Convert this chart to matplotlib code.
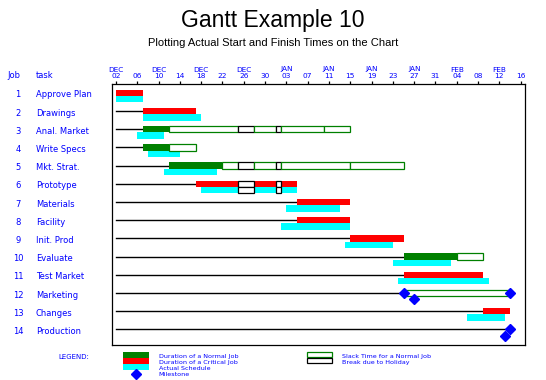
import matplotlib
matplotlib.use("Agg")
import matplotlib.pyplot as plt
import matplotlib.dates as mdates
import matplotlib.transforms as mtransforms
import pandas as pd

## job table
jobs = list(range(1, 15))
tasks = ['Approve Plan', 'Drawings', 'Anal. Market', 'Write Specs', 'Mkt. Strat.',
         'Prototype', 'Materials', 'Facility', 'Init. Prod', 'Evaluate',
         'Test Market', 'Marketing', 'Changes', 'Production']
critical = [1, 1, 0, 0, 0, 1, 1, 1, 1, 0, 1, 0, 1, 1]

## early start / finish (finish = day after the last working day)
e_start = ['1991-12-02', '1991-12-07', '1991-12-07', '1991-12-07', '1991-12-12',
           '1991-12-17', '1992-01-05', '1992-01-05', '1992-01-15', '1992-01-25',
           '1992-01-25', '1992-01-25', '1992-02-09', '1992-02-14']
e_finish = ['1991-12-07', '1991-12-17', '1991-12-12', '1991-12-12', '1991-12-22',
            '1992-01-05', '1992-01-15', '1992-01-15', '1992-01-25', '1992-02-04',
            '1992-02-09', '1992-01-25', '1992-02-14', '1992-02-14']
## late finish (slack) for normal jobs
l_finish = [None, None, '1992-01-15', '1991-12-17', '1992-01-25', None, None, None,
            None, '1992-02-09', None, '1992-02-14', None, None]
slack_split = [None, None, '1992-01-10', None, '1992-01-15', None, None, None,
               None, None, None, None, None, None]

## actual start / finish
a_start = ['1991-12-02', '1991-12-07', '1991-12-06', '1991-12-08', '1991-12-11',
           '1991-12-18', '1992-01-03', '1992-01-02', '1992-01-14', '1992-01-23',
           '1992-01-24', '1992-01-27', '1992-02-06', '1992-02-13']
a_finish = ['1991-12-07', '1991-12-18', '1991-12-11', '1991-12-14', '1991-12-21',
            '1992-01-05', '1992-01-13', '1992-01-15', '1992-01-23', '1992-02-03',
            '1992-02-10', '1992-01-27', '1992-02-13', '1992-02-13']

## holidays
hol_start = ['1991-12-25', '1992-01-01']
hol_end = ['1991-12-28', '1992-01-02']

GREEN = '#008000'
RED = '#ff0000'
CYAN = '#00ffff'
BLUE = '#0000ff'
W, H = 546, 380


def d(s):
    return mdates.date2num(pd.Timestamp(s))


hols = [(d(a), d(b)) for a, b in zip(hol_start, hol_end)]


def pieces(start, end):
    # split [start, end) around the holidays
    out = []
    cur = start
    for hs, he in hols:
        if hs >= end or he <= cur:
            continue
        if hs > cur:
            out.append((cur, hs, False))
        out.append((max(hs, cur), min(he, end), True))
        cur = min(he, end)
    if cur < end:
        out.append((cur, end, False))
    return out


fig = plt.figure(figsize=(W / 100, H / 100), dpi=100)
ax = fig.add_axes([111.7 / W, 1 - 345 / H, (525.3 - 111.7) / W, (345 - 84) / H])
lg = fig.add_axes([0, 0, 1, 1])
lg.set_xlim(0, W)
lg.set_ylim(H, 0)
lg.axis('off')

x0 = d(e_start[0])
BH = 0.35
MS = 4.6

for i, job in enumerate(jobs):
    es, ef = d(e_start[i]), d(e_finish[i])
    ast, af = d(a_start[i]), d(a_finish[i])
    ytop = job - BH
    # line from project start
    if es > x0:
        ax.plot([x0, es], [job - BH / 2] * 2, color='k', lw=1, zorder=1)
    # scheduled bar
    if es == ef:
        ax.plot(es, job - BH / 2, marker='D', color=BLUE, ms=MS, zorder=5)
    else:
        col = RED if critical[i] else GREEN
        for a, b, hol in pieces(es, ef):
            if hol:
                ax.barh(ytop, b - a, left=a, height=BH, align='edge', color='white',
                        edgecolor='k', lw=0.9, zorder=3)
            else:
                ax.barh(ytop, b - a, left=a, height=BH, align='edge', color=col,
                        lw=0, zorder=2)
    # slack
    if l_finish[i]:
        lf = d(l_finish[i])
        cuts = [d(slack_split[i])] if slack_split[i] else []
        for a, b, hol in pieces(ef, lf):
            if hol:
                ax.barh(ytop, b - a, left=a, height=BH, align='edge', color='white',
                        edgecolor='k', lw=0.9, zorder=3)
                continue
            edges = [a] + [c for c in cuts if a < c < b] + [b]
            for p, q in zip(edges[:-1], edges[1:]):
                ax.barh(ytop, q - p, left=p, height=BH, align='edge', color='white',
                        edgecolor=GREEN, lw=0.9, zorder=3)
        if es == ef:
            ax.plot(lf, job - BH / 2, marker='D', color=BLUE, ms=MS, zorder=5)
    # actual schedule
    if ast == af:
        ax.plot(ast, job + BH / 2, marker='D', color=BLUE, ms=MS, zorder=5)
    else:
        for a, b, hol in pieces(ast, af):
            if hol:
                ax.barh(job, b - a, left=a, height=BH, align='edge', color='white',
                        edgecolor='k', lw=0.9, zorder=3)
            else:
                ax.barh(job, b - a, left=a, height=BH, align='edge', color=CYAN,
                        lw=0, zorder=2)

ax.set_ylim(14.68, 0.34)
ax.set_yticks([])
ax.set_xlim(x0 - 0.8, d('1992-02-16') + 0.87)

ticks = pd.date_range('1991-12-02', '1992-02-16', freq='4D')
ax.xaxis.tick_top()
ax.set_xticks(mdates.date2num(ticks))
ax.set_xticklabels([t.strftime('%d') for t in ticks], fontsize=5.3, color=BLUE)
ax.tick_params(axis='x', direction='out', length=2.3, width=0.9, pad=1.0)
for s in ax.spines.values():
    s.set_linewidth(0.9)

# month labels above every other tick
mon_tr = mtransforms.blended_transform_factory(ax.transData, lg.transData)
for k, t in enumerate(ticks):
    if k % 2 == 0:
        ax.text(mdates.date2num(t), 69.5, t.strftime('%b').upper(), transform=mon_tr,
                ha='center', va='center', fontsize=5.3, color=BLUE)

# row labels
row_tr = mtransforms.blended_transform_factory(lg.transData, ax.transData)
for job, name in zip(jobs, tasks):
    ax.text(18, job - 0.06, str(job), transform=row_tr, ha='center', va='center',
            fontsize=6, color=BLUE, clip_on=False)
    ax.text(36, job - 0.06, name, transform=row_tr, ha='left', va='center',
            fontsize=6, color=BLUE, clip_on=False)
lg.text(13.5, 76, 'Job', ha='center', va='center', fontsize=6, color=BLUE)
lg.text(36, 76, 'task', ha='left', va='center', fontsize=6, color=BLUE)

# titles
fig.text(0.5, 1 - 20 / H, 'Gantt Example 10', ha='center', va='center',
         fontsize=16.5, family='Liberation Sans')
fig.text(0.5, 1 - 42.5 / H, 'Plotting Actual Start and Finish Times on the Chart',
         ha='center', va='center', fontsize=8, family='Liberation Sans')

# legend
lg.text(58, 357, 'LEGEND:', ha='left', va='center', fontsize=5, color=BLUE)
for y0, col in zip([352, 358, 364], [GREEN, RED, CYAN]):
    lg.add_patch(plt.Rectangle((122.7, y0), 26.3, 6, color=col, lw=0))
lg.plot(136, 373.7, marker='D', color=BLUE, ms=MS)
for y0, txt in zip([356.5, 362.5, 368.5, 374.5], ['Duration of a Normal Job',
                                                  'Duration of a Critical Job',
                                                  'Actual Schedule', 'Milestone']):
    lg.text(158.7, y0, txt, ha='left', va='center', fontsize=4.6, color=BLUE)
lg.add_patch(plt.Rectangle((306.7, 352.3), 25, 5, fc='white', ec=GREEN, lw=0.9))
lg.add_patch(plt.Rectangle((306.7, 358.3), 25, 5, fc='white', ec='k', lw=0.9))
for y0, txt in zip([356.5, 362.5], ['Slack Time for a Normal Job', 'Break due to Holiday']):
    lg.text(341.7, y0, txt, ha='left', va='center', fontsize=4.6, color=BLUE)

fig.savefig('out.png', dpi=100)
